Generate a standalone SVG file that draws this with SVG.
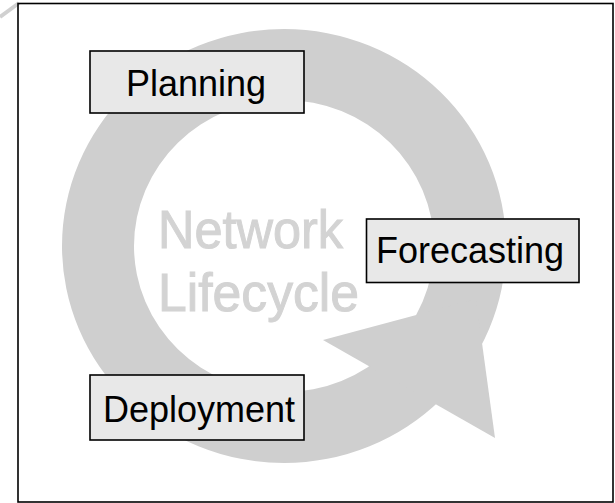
<svg xmlns="http://www.w3.org/2000/svg" width="615" height="503" viewBox="0 0 615 503">
<style>
.box{fill:#e8e8e8;stroke:#000;stroke-width:1.6}
.lbl{font-family:"Liberation Sans",Arial,sans-serif;font-size:36px;fill:#000;text-anchor:middle}
.wm{font-family:"Liberation Sans",Arial,sans-serif;font-size:53px;fill:#d3d3d3;stroke:#d3d3d3;stroke-width:1}
.cyc{fill:#cfcfcf}
</style>
<rect x="0" y="0" width="615" height="503" fill="#fff"/>
<g id="connectors">
<line x1="0" y1="17" x2="19" y2="3" stroke="#d0d0d0" stroke-width="4"/>
</g>
<rect id="frame" x="18" y="3.5" width="595" height="498.5" fill="none" stroke="#000" stroke-width="1.6"/>
<g id="cycle">
<path class="cyc" fill-rule="evenodd" d="M62,246 A222,217 0 1,0 506,246 A222,217 0 1,0 62,246 Z M134,246 A150,146 0 1,0 434,246 A150,146 0 1,0 134,246 Z"/>
<polygon class="cyc" points="476,299 323,340 495,438"/>
</g>
<g id="title">
<text class="wm" x="158" y="248" textLength="185" lengthAdjust="spacingAndGlyphs">Network</text>
<text class="wm" x="158" y="311" textLength="201" lengthAdjust="spacingAndGlyphs">Lifecycle</text>
</g>
<g id="planning">
<rect class="box" x="90" y="51" width="214" height="62"/>
<text class="lbl" x="196" y="96">Planning</text>
</g>
<g id="forecasting">
<rect class="box" x="366.5" y="219" width="212.5" height="63.5"/>
<text class="lbl" x="470" y="263">Forecasting</text>
</g>
<g id="deployment">
<rect class="box" x="90" y="375" width="214" height="65"/>
<text class="lbl" x="199" y="422">Deployment</text>
</g>
</svg>
